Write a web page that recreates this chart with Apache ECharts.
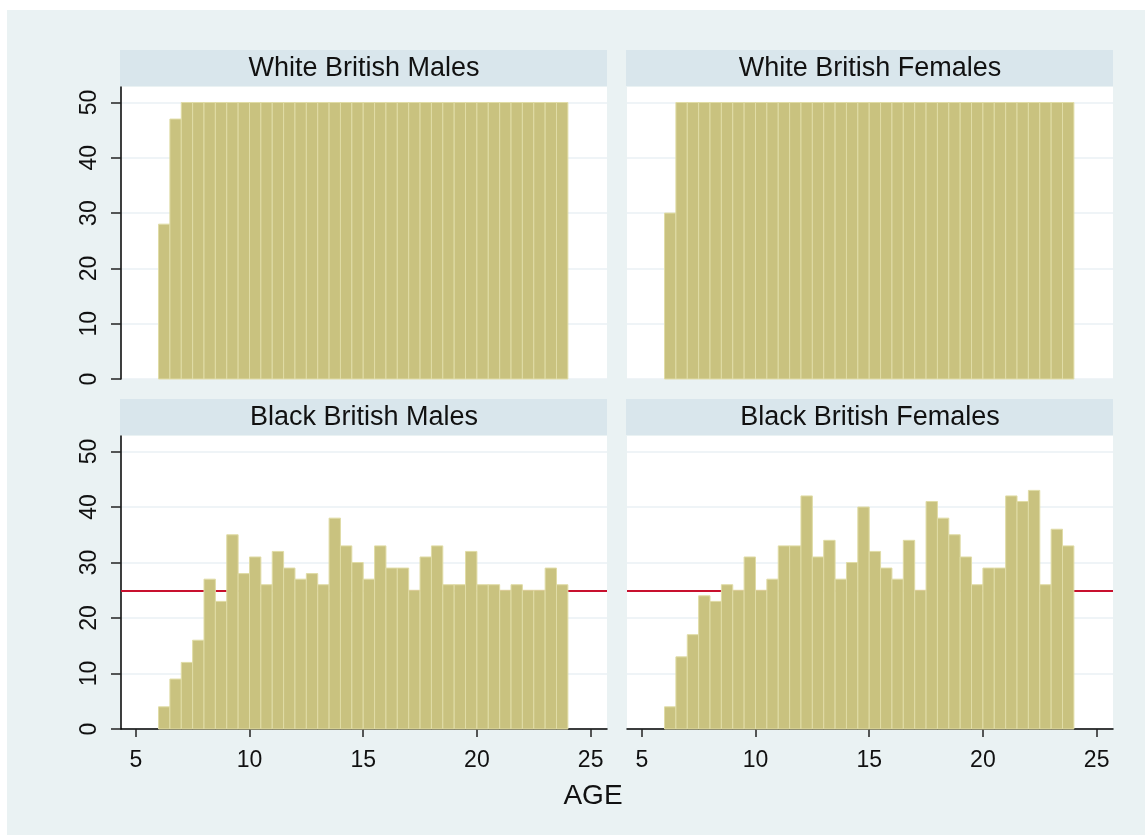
<!DOCTYPE html>
<html>
<head>
<meta charset="utf-8">
<title>Age histograms</title>
<script src="https://cdn.jsdelivr.net/npm/echarts@6/dist/echarts.min.js"></script>
<style>
  html, body { margin: 0; padding: 0; background: #ffffff; }
  #chart { width: 1145px; height: 835px; }
</style>
</head>
<body>
<div id="chart"></div>
<script>
// bin lower edges (age), bin width 0.5
const binStarts = [6, 6.5, 7, 7.5, 8, 8.5, 9, 9.5, 10, 10.5, 11, 11.5, 12, 12.5, 13, 13.5, 14, 14.5,
    15, 15.5, 16, 16.5, 17, 17.5, 18, 18.5, 19, 19.5, 20, 20.5, 21, 21.5, 22, 22.5, 23, 23.5];
const binWidth = 0.5;

const panelTitles = ['White British Males', 'White British Females', 'Black British Males', 'Black British Females'];

const whiteMales = [28, 47, 50, 50, 50, 50, 50, 50, 50, 50, 50, 50, 50, 50, 50, 50, 50, 50,
    50, 50, 50, 50, 50, 50, 50, 50, 50, 50, 50, 50, 50, 50, 50, 50, 50, 50];
const whiteFemales = [30, 50, 50, 50, 50, 50, 50, 50, 50, 50, 50, 50, 50, 50, 50, 50, 50, 50,
    50, 50, 50, 50, 50, 50, 50, 50, 50, 50, 50, 50, 50, 50, 50, 50, 50, 50];
const blackMales = [4, 9, 12, 16, 27, 23, 35, 28, 31, 26, 32, 29, 27, 28, 26, 38, 33, 30,
    27, 33, 29, 29, 25, 31, 33, 26, 26, 32, 26, 26, 25, 26, 25, 25, 29, 26];
const blackFemales = [4, 13, 17, 24, 23, 26, 25, 31, 25, 27, 33, 33, 42, 31, 34, 27, 30, 40,
    32, 29, 27, 34, 25, 41, 38, 35, 31, 26, 29, 29, 42, 41, 43, 26, 36, 33];

const xTicks = [5, 10, 15, 20, 25];
const yTicks = [0, 10, 20, 30, 40, 50];
const refLine = 25;

const FONT = '"Liberation Sans", Arial, Helvetica, sans-serif';
const BG = '#EAF2F3';
const STRIP = '#D9E6EC';
const GRIDLINE = '#EAF1F4';

const chart = echarts.init(document.getElementById('chart'), null, {renderer: 'canvas'});

// panel boxes: [left, top, width, height]
const boxes = [
    [121, 87, 486, 292],
    [627, 87, 486, 292],
    [121, 436, 486, 293],
    [627, 436, 486, 293]
];
const stripTops = [50, 50, 399, 399];
const stripHeight = 36;
const panelData = [whiteMales, whiteFemales, blackMales, blackFemales];

function toPairs(values) {
    return binStarts.map((b, i) => [b, values[i]]);
}

function renderBin(params, api) {
    const x0 = api.value(0);
    const h = api.value(1);
    const p0 = api.coord([x0, h]);
    const p1 = api.coord([x0 + binWidth, 0]);
    return {
        type: 'rect',
        shape: {x: p0[0], y: p0[1], width: p1[0] - p0[0], height: p1[1] - p0[1]},
        style: {fill: '#C9C27F', stroke: '#E0DCA6', lineWidth: 1}
    };
}

const grids = boxes.map(b => ({
    left: b[0], top: b[1], width: b[2], height: b[3],
    show: true, backgroundColor: '#ffffff', borderWidth: 0
}));

const xAxes = boxes.map((b, i) => {
    const bottom = i >= 2;
    return {
        type: 'value', gridIndex: i, min: 4.35, max: 25.72,
        show: bottom,
        axisLine: {show: true, onZero: false, lineStyle: {color: '#000', width: 1.5}},
        axisTick: {show: true, length: 8, customValues: xTicks, lineStyle: {color: '#222', width: 1.5}},
        axisLabel: {show: true, customValues: xTicks, margin: 20, fontSize: 23, color: '#111', fontFamily: FONT},
        splitLine: {show: false}
    };
});

const yAxes = boxes.map((b, i) => {
    const left = i % 2 === 0;
    return {
        type: 'value', gridIndex: i, min: 0, max: 52.8,
        axisLine: {show: left, lineStyle: {color: '#000', width: 1.5}},
        axisTick: {show: left, length: 10, customValues: yTicks, lineStyle: {color: '#222', width: 1.5}},
        axisLabel: {show: left, customValues: yTicks, rotate: 90, margin: 20, fontSize: 23, color: '#111', fontFamily: FONT},
        splitLine: {show: true, lineStyle: {color: GRIDLINE, width: 1.5}}
    };
});

const series = panelData.map((vals, i) => {
    const s = {
        type: 'custom', name: panelTitles[i],
        xAxisIndex: i, yAxisIndex: i, z: 3,
        renderItem: renderBin,
        encode: {x: 0, y: 1},
        data: toPairs(vals)
    };
    if (i >= 2) {
        s.markLine = {
            z: 1, silent: true, symbol: 'none',
            label: {show: false},
            lineStyle: {color: '#C8102E', width: 2, type: 'solid'},
            data: [{yAxis: refLine}]
        };
    }
    return s;
});

const graphics = [
    {type: 'rect', z: -10, silent: true, shape: {x: 7, y: 10, width: 1138, height: 825}, style: {fill: BG}}
];
boxes.forEach((b, i) => {
    graphics.push({
        type: 'rect', z: -5, silent: true,
        shape: {x: b[0] - 1, y: stripTops[i], width: b[2] + 1, height: stripHeight},
        style: {fill: STRIP}
    });
    graphics.push({
        type: 'text', z: 5, silent: true,
        x: b[0] + b[2] / 2, y: stripTops[i] + stripHeight / 2 + 1,
        style: {text: panelTitles[i], fill: '#111', font: '27px ' + FONT, textAlign: 'center', textVerticalAlign: 'middle'}
    });
});
graphics.push({
    type: 'text', z: 5, silent: true, x: 593, y: 796,
    style: {text: 'AGE', fill: '#111', font: '28px ' + FONT, textAlign: 'center', textVerticalAlign: 'middle'}
});

chart.setOption({
    backgroundColor: '#ffffff',
    animation: false,
    graphic: graphics,
    grid: grids,
    xAxis: xAxes,
    yAxis: yAxes,
    series: series
});
</script>
</body>
</html>
